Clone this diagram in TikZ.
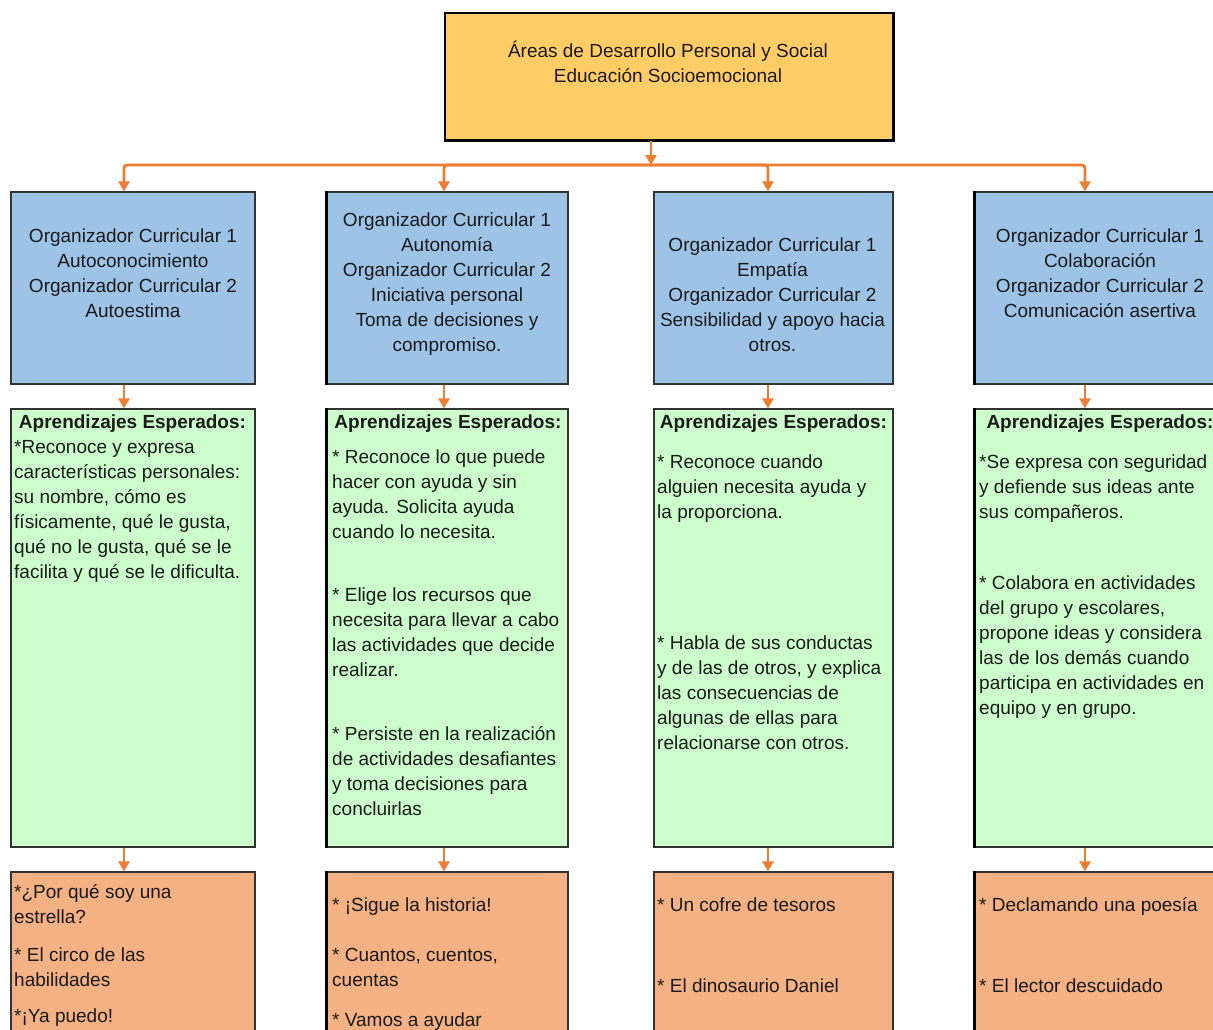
\documentclass[tikz,border=0pt]{standalone}
\usepackage{fontspec}
\setmainfont{Liberation Sans}
\usetikzlibrary{arrows.meta}
\definecolor{topc}{HTML}{FFCC66}
\definecolor{bluec}{HTML}{9DC3E6}
\definecolor{greenc}{HTML}{CCFFCC}
\definecolor{orangec}{HTML}{F4B183}
\definecolor{arrc}{HTML}{ED7D31}
\definecolor{edgec}{HTML}{333333}
\definecolor{txtc}{HTML}{1A1A1A}
\newcommand{\st}{\rule{0pt}{18bp}}
\newcommand{\bodyfont}{\fontsize{19bp}{25bp}\selectfont}
\begin{document}
\begin{tikzpicture}[x=1bp,y=-1bp,
  boxbase/.style={rectangle, draw=edgec, line width=1.3bp, inner sep=0pt},
  topbox/.style={boxbase, draw=black, fill=topc},
  orgbox/.style={boxbase, fill=bluec, minimum height=192bp},
  lrnbox/.style={boxbase, fill=greenc, minimum height=438bp},
  actbox/.style={boxbase, fill=orangec, minimum height=188bp},
  thickedge/.style={draw=black, line width=2.4bp},
  txt/.style={anchor=north west, inner sep=0pt, align=left, font=\bodyfont, text=txtc},
  ctxt/.style={anchor=north, inner sep=0pt, align=center, font=\bodyfont, text=txtc},
  head/.style={anchor=north, inner sep=0pt, font=\bodyfont\bfseries, text=txtc},
  conn/.style={draw=arrc, line width=2.8bp, -{Triangle[width=11bp,length=10bp]}}
]
\useasboundingbox (0,0) rectangle (1213,1030);
\clip (0,0) rectangle (1213,1030);

% top box
\node[topbox, minimum width=448bp, minimum height=127bp] (top) at (669,76.5) {};
\draw[thickedge, line width=3bp] (top.north east) -- (top.south east) -- (top.south west);
\node[ctxt] (toptxt) at (668,39.5) {\st Áreas de Desarrollo Personal y Social\\ Educación Socioemocional};

% arrow columns
\coordinate (a0) at (651,0);
\coordinate (a1) at (124,0);
\coordinate (a2) at (444,0);
\coordinate (a3) at (768,0);
\coordinate (a4) at (1085,0);
\coordinate (bus) at (651,165);

% blue boxes
\node[orgbox, minimum width=244bp] (b1) at (133,288) {};
\node[orgbox, minimum width=241bp] (b2) at (447.5,288) {};
\node[orgbox, minimum width=239bp] (b3) at (773.5,288) {};
\node[orgbox, minimum width=250bp] (b4) at (1100,288) {};

\node[ctxt] (b1t) at (133,224.5) {\st Organizador Curricular 1\\ Autoconocimiento\\ Organizador Curricular 2\\ Autoestima};
\node[ctxt] (b2t) at (447,208.5) {\st Organizador Curricular 1\\ Autonomía\\ Organizador Curricular 2\\ Iniciativa personal\\ Toma de decisiones y\\ compromiso.};
\node[ctxt] (b3t) at (772.5,233.5) {\st Organizador Curricular 1\\ Empatía\\ Organizador Curricular 2\\ Sensibilidad y apoyo hacia\\ otros.};
\node[ctxt] (b4t) at (1100,224.5) {\st Organizador Curricular 1\\ Colaboración\\ Organizador Curricular 2\\ Comunicación asertiva};

% green boxes
\node[lrnbox, minimum width=244bp] (g1) at (133,628) {};
\node[lrnbox, minimum width=241bp] (g2) at (447.5,628) {};
\node[lrnbox, minimum width=239bp] (g3) at (773.5,628) {};
\node[lrnbox, minimum width=250bp] (g4) at (1100,628) {};

\node[head] (h1) at (132.5,410.5) {\st Aprendizajes Esperados:};
\node[head] (h2) at (448,410.5) {\st Aprendizajes Esperados:};
\node[head] (h3) at (773.5,410.5) {\st Aprendizajes Esperados:};
\node[head] (h4) at (1100,410.5) {\st Aprendizajes Esperados:};

\node[txt] (g1a) at (14,435.5) {\st *Reconoce y expresa\\ características personales:\\ su nombre, cómo es\\ físicamente, qué le gusta,\\ qué no le gusta, qué se le\\ facilita y qué se le dificulta.};

\node[txt] (g2a) at (332,445.5) {\st * Reconoce lo que puede\\ hacer con ayuda y sin\\ ayuda. Solicita ayuda\\ cuando lo necesita.};
\node[txt] (g2b) at (332,583.5) {\st * Elige los recursos que\\ necesita para llevar a cabo\\ las actividades que decide\\ realizar.};
\node[txt] (g2c) at (332,722.5) {\st * Persiste en la realización\\ de actividades desafiantes\\ y toma decisiones para\\ concluirlas};

\node[txt] (g3a) at (657,450.5) {\st * Reconoce cuando\\ alguien necesita ayuda y\\ la proporciona.};
\node[txt] (g3b) at (657,631.5) {\st * Habla de sus conductas\\ y de las de otros, y explica\\ las consecuencias de\\ algunas de ellas para\\ relacionarse con otros.};

\node[txt] (g4a) at (979,450.5) {\st *Se expresa con seguridad\\ y defiende sus ideas ante\\ sus compañeros.};
\node[txt] (g4b) at (979,571.5) {\st * Colabora en actividades\\ del grupo y escolares,\\ propone ideas y considera\\ las de los demás cuando\\ participa en actividades en\\ equipo y en grupo.};

% orange boxes
\node[actbox, minimum width=244bp] (o1) at (133,966) {};
\node[actbox, minimum width=241bp] (o2) at (447.5,966) {};
\node[actbox, minimum width=239bp] (o3) at (773.5,966) {};
\node[actbox, minimum width=250bp] (o4) at (1100,966) {};

% heavier left edges of columns 2 and 4
\draw[thickedge] (b2.north west) -- (b2.south west);
\draw[thickedge] (g2.north west) -- (g2.south west);
\draw[thickedge] (o2.north west) -- (o2.south west);
\draw[thickedge] (b4.north west) -- (b4.south west);
\draw[thickedge] (g4.north west) -- (g4.south west);
\draw[thickedge] (o4.north west) -- (o4.south west);

\node[txt] (o1a) at (14,880.5) {\st *¿Por qué soy una\\ estrella?};
\node[txt] (o1b) at (14,943.5) {\st * El circo de las\\ habilidades};
\node[txt] (o1c) at (14,1004.5) {\st *¡Ya puedo!};

\node[txt] (o2a) at (332,893.5) {\st * ¡Sigue la historia!};
\node[txt] (o2b) at (332,943.5) {\st * Cuantos, cuentos,\\ cuentas};
\node[txt] (o2c) at (332,1008.5) {\st * Vamos a ayudar};

\node[txt] (o3a) at (657,893.5) {\st * Un cofre de tesoros};
\node[txt] (o3b) at (657,974.5) {\st * El dinosaurio Daniel};

\node[txt] (o4a) at (979,893.5) {\st * Declamando una poesía};
\node[txt] (o4b) at (979,974.5) {\st * El lector descuidado};

% connectors
\draw[conn] (top.south -| a0) -- (bus);
\draw[conn, rounded corners=3bp] (bus) -| (b1.north -| a1);
\draw[conn, rounded corners=3bp] (bus) -| (b2.north -| a2);
\draw[conn, rounded corners=3bp] (bus) -| (b3.north -| a3);
\draw[conn, rounded corners=3bp] (bus) -| (b4.north -| a4);

\draw[conn] (b1.south -| a1) -- (g1.north -| a1);
\draw[conn] (b2.south -| a2) -- (g2.north -| a2);
\draw[conn] (b3.south -| a3) -- (g3.north -| a3);
\draw[conn] (b4.south -| a4) -- (g4.north -| a4);

\draw[conn] (g1.south -| a1) -- (o1.north -| a1);
\draw[conn] (g2.south -| a2) -- (o2.north -| a2);
\draw[conn] (g3.south -| a3) -- (o3.north -| a3);
\draw[conn] (g4.south -| a4) -- (o4.north -| a4);
\end{tikzpicture}
\end{document}
